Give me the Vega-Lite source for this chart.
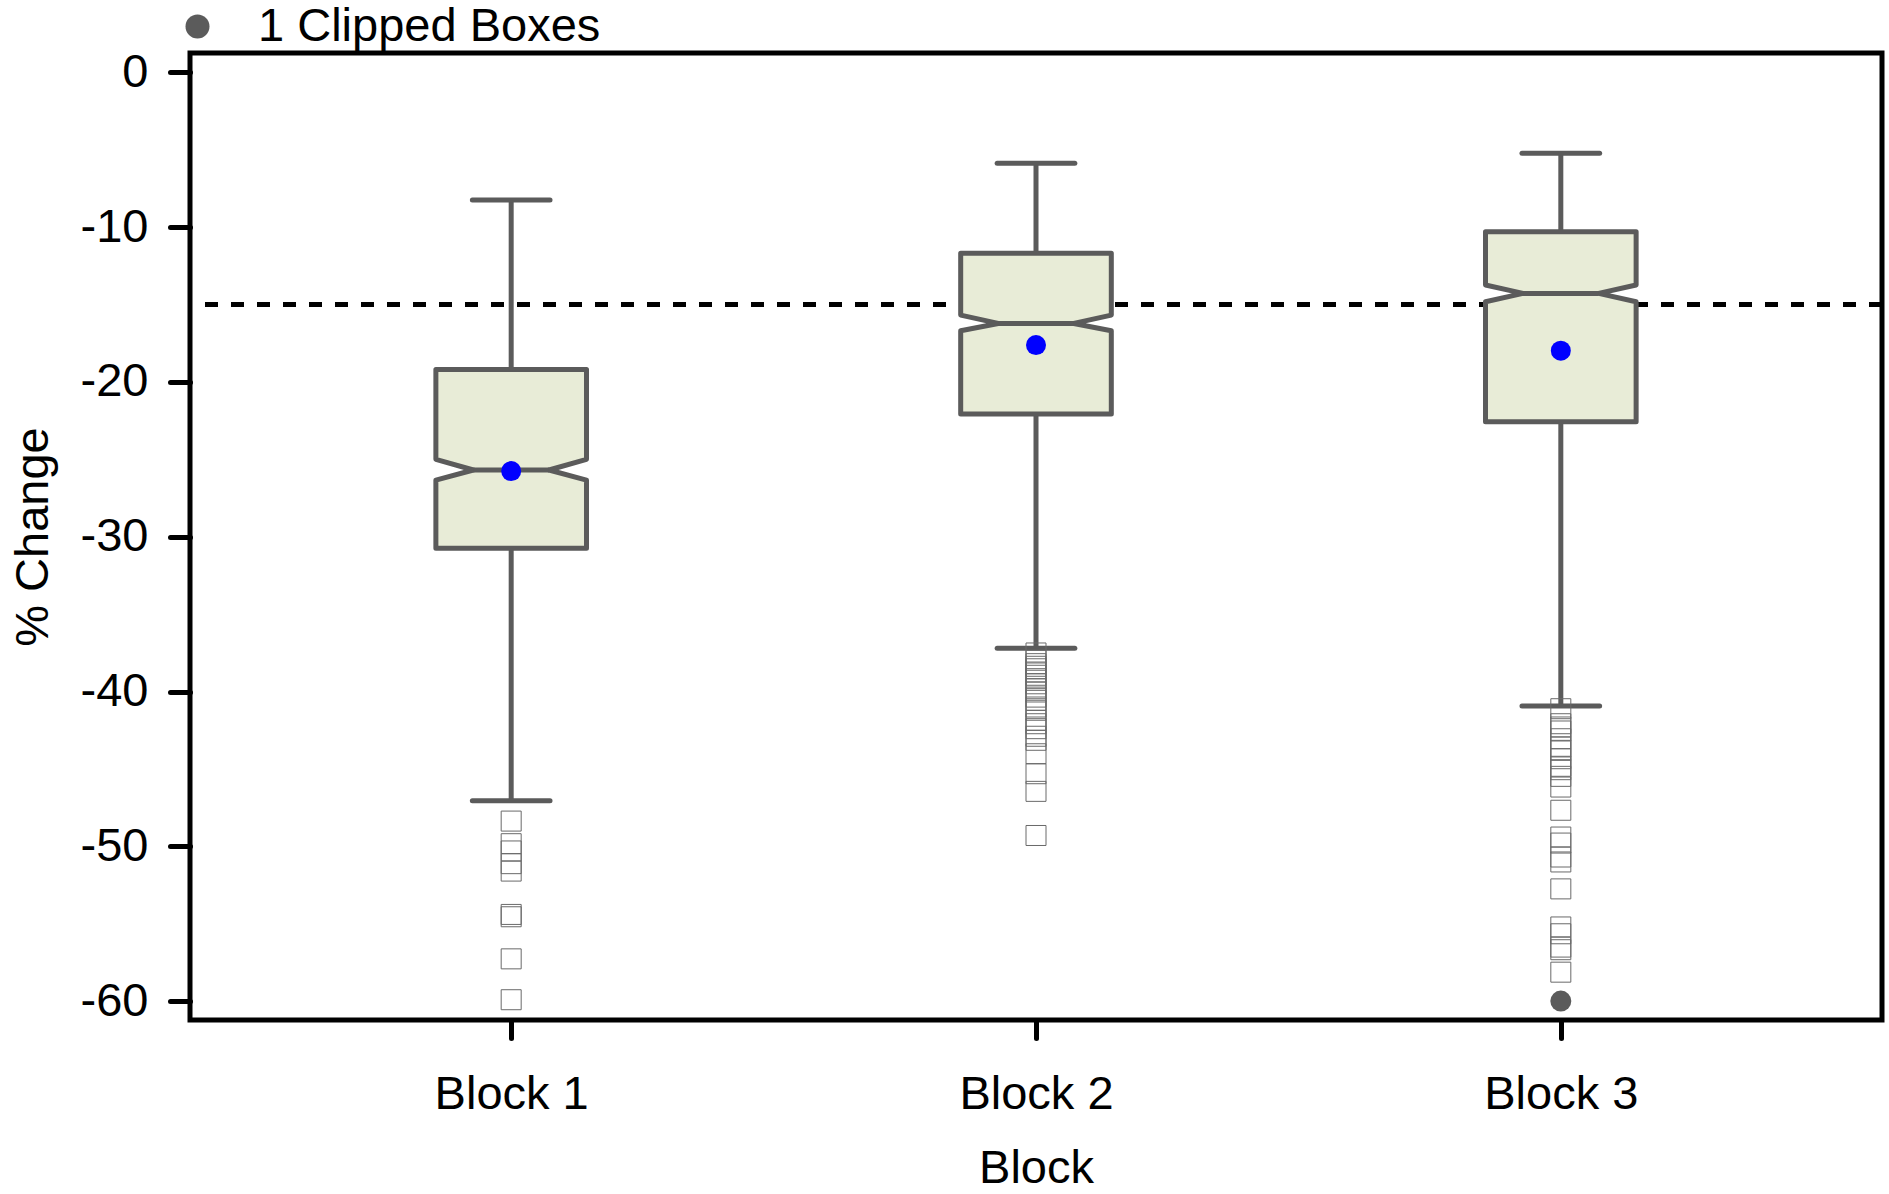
{
  "$schema": "https://vega.github.io/schema/vega-lite/v6.json",
  "width": 1692,
  "height": 967,
  "autosize": {"type": "none"},
  "padding": {"left": 190, "top": 53, "right": 7, "bottom": 174},
  "background": "white",
  "config": {
    "font": "Liberation Sans",
    "view": {"stroke": "black", "strokeWidth": 5},
    "axis": {
      "labelFont": "Liberation Sans",
      "titleFont": "Liberation Sans",
      "labelFontSize": 47,
      "titleFontSize": 47,
      "labelColor": "black",
      "titleColor": "black",
      "titleFontWeight": "normal",
      "tickColor": "black",
      "tickWidth": 5,
      "tickSize": 20,
      "tickCap": "round",
      "domain": false,
      "grid": false
    },
    "legend": {"labelFont": "Liberation Sans", "labelFontSize": 47, "labelColor": "black", "labelLimit": 0}
  },
  "datasets": {
    "stats": [
      {"block": 1, "q1": -30.75, "notchLo": -26.34, "median": -25.69, "notchHi": -25.0, "q3": -19.19, "lo": -47.05, "hi": -8.25, "mean": -25.76},
      {"block": 2, "q1": -22.07, "notchLo": -16.69, "median": -16.22, "notchHi": -15.68, "q3": -11.69, "lo": -37.21, "hi": -5.88, "mean": -17.62},
      {"block": 3, "q1": -22.57, "notchLo": -14.82, "median": -14.28, "notchHi": -13.74, "q3": -10.30, "lo": -40.94, "hi": -5.23, "mean": -17.98}
    ],
    "outliers": [
      {"block": 1, "value": -48.37}, {"block": 1, "value": -49.83}, {"block": 1, "value": -50.30}, {"block": 1, "value": -51.12}, {"block": 1, "value": -51.60},
      {"block": 1, "value": -54.40}, {"block": 1, "value": -54.55}, {"block": 1, "value": -57.27}, {"block": 1, "value": -59.91},
      {"block": 2, "value": -37.51}, {"block": 2, "value": -37.98}, {"block": 2, "value": -38.20}, {"block": 2, "value": -38.37}, {"block": 2, "value": -38.53},
      {"block": 2, "value": -38.74}, {"block": 2, "value": -38.95}, {"block": 2, "value": -39.17}, {"block": 2, "value": -39.50}, {"block": 2, "value": -39.82},
      {"block": 2, "value": -40.03}, {"block": 2, "value": -40.36}, {"block": 2, "value": -40.57}, {"block": 2, "value": -41.00}, {"block": 2, "value": -41.21},
      {"block": 2, "value": -41.86}, {"block": 2, "value": -42.08}, {"block": 2, "value": -42.40}, {"block": 2, "value": -42.89}, {"block": 2, "value": -43.15},
      {"block": 2, "value": -44.02}, {"block": 2, "value": -45.31}, {"block": 2, "value": -46.45}, {"block": 2, "value": -49.30},
      {"block": 3, "value": -41.11}, {"block": 3, "value": -42.08}, {"block": 3, "value": -42.29}, {"block": 3, "value": -42.55}, {"block": 3, "value": -43.05},
      {"block": 3, "value": -43.58}, {"block": 3, "value": -43.80}, {"block": 3, "value": -44.34}, {"block": 3, "value": -44.83}, {"block": 3, "value": -45.05},
      {"block": 3, "value": -45.48}, {"block": 3, "value": -46.17}, {"block": 3, "value": -47.67}, {"block": 3, "value": -49.40}, {"block": 3, "value": -49.79},
      {"block": 3, "value": -50.69}, {"block": 3, "value": -51.01}, {"block": 3, "value": -52.75}, {"block": 3, "value": -55.21}, {"block": 3, "value": -55.65},
      {"block": 3, "value": -56.51}, {"block": 3, "value": -56.68}, {"block": 3, "value": -58.13}
    ],
    "clipped": [
      {"block": 3, "value": -60, "label": "1 Clipped Boxes"}
    ],
    "reference": [
      {"value": -15}
    ]
  },
  "encoding": {
    "x": {
      "field": "block",
      "type": "quantitative",
      "scale": {"domain": [0.388, 3.612], "nice": false, "zero": false},
      "axis": {"values": [1, 2, 3], "labelExpr": "'Block ' + datum.value", "title": "Block", "tickSize": 18, "labelPadding": 33, "titlePadding": 28, "labelFlush": false}
    },
    "y": {
      "field": "value",
      "type": "quantitative",
      "scale": {"domain": [-61.22, 1.25], "nice": false, "zero": false},
      "axis": {"values": [0, -10, -20, -30, -40, -50, -60], "labelExpr": "toString(datum.value)", "title": "% Change", "labelPadding": 22, "titlePadding": 23, "labelFlush": false}
    }
  },
  "layer": [
    {
      "data": {"name": "reference"},
      "mark": {"type": "rule", "color": "black", "strokeWidth": 5, "strokeDash": [13, 13]},
      "encoding": {"x": null, "y": {"field": "value", "type": "quantitative"}}
    },
    {
      "data": {"name": "stats"},
      "mark": {"type": "rule", "color": "#5b5b5b", "strokeWidth": 5},
      "encoding": {"y": {"field": "lo", "type": "quantitative"}, "y2": {"field": "hi"}}
    },
    {
      "data": {"name": "stats"},
      "transform": [
        {"fold": ["lo", "hi"], "as": ["stat", "capValue"]},
        {"calculate": "datum.block - 0.074", "as": "capL"},
        {"calculate": "datum.block + 0.074", "as": "capR"}
      ],
      "mark": {"type": "rule", "color": "#5b5b5b", "strokeWidth": 5, "strokeCap": "round"},
      "encoding": {
        "x": {"field": "capL", "type": "quantitative"},
        "x2": {"field": "capR"},
        "y": {"field": "capValue", "type": "quantitative"}
      }
    },
    {
      "data": {"name": "stats"},
      "transform": [
        {"fold": ["q1", "notchLo", "median", "notchHi", "q3"], "as": ["stat", "v"]},
        {"calculate": "datum.stat === 'median' ? 0.072 : 0.1435", "as": "hw"},
        {"calculate": "datum.block - datum.hw", "as": "xl"},
        {"calculate": "datum.block + datum.hw", "as": "xr"}
      ],
      "mark": {"type": "area", "orient": "horizontal", "fill": "#e8ecd7", "fillOpacity": 1, "stroke": "#5b5b5b", "strokeWidth": 5, "strokeJoin": "round"},
      "encoding": {
        "x": {"field": "xl", "type": "quantitative", "stack": null},
        "x2": {"field": "xr"},
        "y": {"field": "v", "type": "quantitative"},
        "detail": {"field": "block", "type": "nominal"}
      }
    },
    {
      "data": {"name": "stats"},
      "transform": [
        {"calculate": "datum.block - 0.072", "as": "mL"},
        {"calculate": "datum.block + 0.072", "as": "mR"}
      ],
      "mark": {"type": "rule", "color": "#5b5b5b", "strokeWidth": 5},
      "encoding": {
        "x": {"field": "mL", "type": "quantitative"},
        "x2": {"field": "mR"},
        "y": {"field": "median", "type": "quantitative"}
      }
    },
    {
      "data": {"name": "outliers"},
      "mark": {"type": "point", "shape": "square", "size": 400, "filled": false, "stroke": "#6a6a6a", "strokeWidth": 1, "opacity": 1}
    },
    {
      "data": {"name": "clipped"},
      "mark": {"type": "point", "shape": "circle", "size": 441, "filled": true, "opacity": 1},
      "encoding": {
        "color": {
          "field": "label",
          "type": "nominal",
          "scale": {"range": ["#5b5b5b"]},
          "legend": {"orient": "none", "legendX": -16, "legendY": -50, "title": null, "symbolSize": 576, "symbolType": "circle", "labelOffset": 37, "labelLimit": 0, "padding": 0, "symbolStrokeWidth": 0, "symbolOpacity": 1}
        }
      }
    },
    {
      "data": {"name": "stats"},
      "mark": {"type": "point", "shape": "circle", "size": 400, "filled": true, "color": "#0000ff", "opacity": 1},
      "encoding": {"y": {"field": "mean", "type": "quantitative"}}
    }
  ]
}
